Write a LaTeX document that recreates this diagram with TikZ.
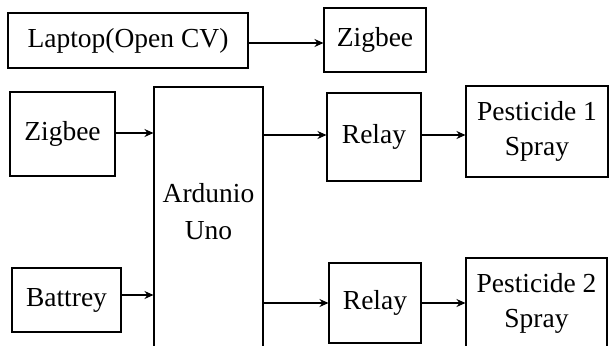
\documentclass[tikz,border=0pt]{standalone}
\usepackage{fontspec}
\setmainfont{Liberation Serif}
\usepackage{tikz}
\usetikzlibrary{arrows.meta,calc,positioning}

\begin{document}
\begin{tikzpicture}[x=1pt,y=-1pt,
  blk/.style={draw,line width=1.1pt,inner sep=0pt,align=center,font=\fontsize{27.5}{35}\selectfont},
  txt/.style={inner sep=0pt,align=center,font=\fontsize{27.5}{37}\selectfont},
  arr/.style={line width=1.2pt,-{Stealth[length=9pt,width=8pt]}}]
  \useasboundingbox (0,0) rectangle (609,345);
  % top row
  \node[blk,minimum width=240pt,minimum height=55pt] (lap) at (128,40.5) {Laptop(Open CV)};
  \node[blk,minimum width=102pt,minimum height=64pt] (zigout) at (375,40) {Zigbee};
  % inputs
  \node[blk,minimum width=105pt,minimum height=84pt] (zigin) at (62.5,134) {Zigbee};
  \node[blk,minimum width=109pt,minimum height=64pt] (bat) at (66.5,300) {Battrey};
  % controller (runs off the bottom)
  \node[blk,minimum width=109pt,minimum height=278pt] (ard) at (208.5,226) {};
  \node[txt] (ardtxt) at (208.5,212) {Ardunio\\Uno};
  % outputs
  \node[blk,minimum width=94pt,minimum height=88pt] (relA) at (374,137) {Relay};
  \node[blk,minimum width=92pt,minimum height=80pt] (relB) at (375,303) {Relay};
  \node[blk,minimum width=142pt,minimum height=91pt] (pesA) at (537,131.5) {Pesticide 1\\Spray};
  \node[blk,minimum width=141pt,minimum height=91pt] (pesB) at (536.5,303.5) {Pesticide 2\\Spray};
  % links
  \draw[arr] ([yshift=-2.5pt]lap.east) -- ([yshift=-2.5pt]lap.east -| zigout.west);
  \draw[arr] ([yshift=1pt]zigin.east) -- ([yshift=1pt]zigin.east -| ard.west);
  \draw[arr] ([yshift=5pt]bat.east) -- ([yshift=5pt]bat.east -| ard.west);
  \draw[arr] ([yshift=2pt]ard.east |- relA.west) -- ([yshift=2pt]relA.west);
  \draw[arr] (ard.east |- relB.west) -- (relB.west);
  \draw[arr] ([yshift=2pt]relA.east) -- ([yshift=2pt]relA.east -| pesA.west);
  \draw[arr] (relB.east) -- (relB.east -| pesB.west);
\end{tikzpicture}
\end{document}
